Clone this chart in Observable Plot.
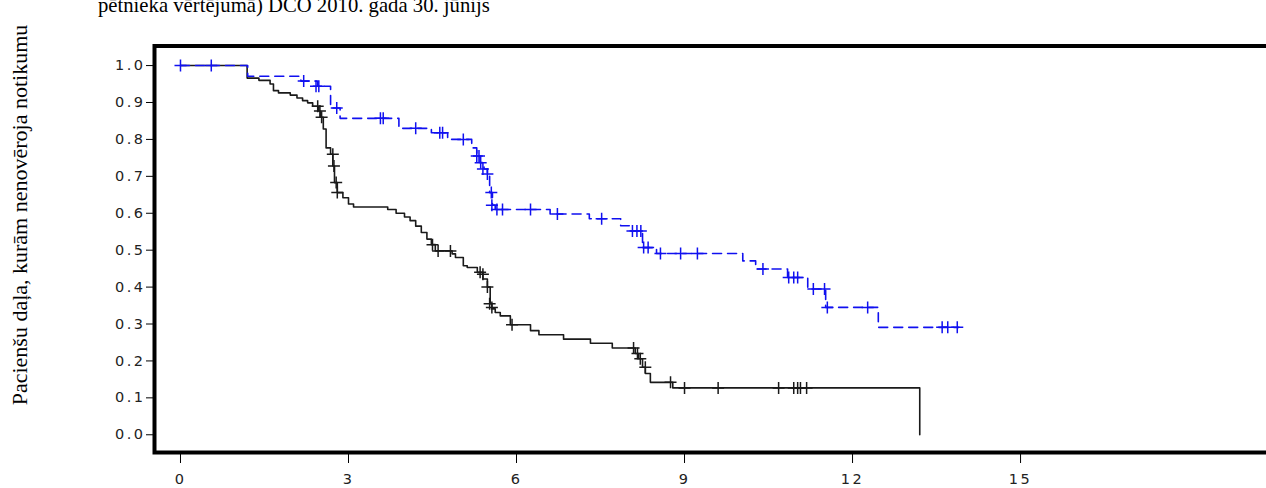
<!DOCTYPE html>
<html>
<head>
<meta charset="utf-8">
<script src="https://cdn.jsdelivr.net/npm/d3@7"></script>
<script src="https://cdn.jsdelivr.net/npm/@observablehq/plot@0.6"></script>
<style>
  html, body { margin: 0; padding: 0; background: #fff; overflow: hidden; }
  #wrap { position: relative; width: 1266px; height: 488px; overflow: hidden; }
  #title { position: absolute; left: 98px; top: -5px; font-family: "Liberation Serif", serif; font-size: 20.7px; line-height: 20px; white-space: nowrap; color: #000; }
  #ylab { position: absolute; left: 20px; top: 215px; transform: translate(-50%, -50%) rotate(-90deg); font-family: "Liberation Serif", serif; font-size: 22px; line-height: 22px; white-space: nowrap; color: #000; }
  #chart { position: absolute; left: 0; top: 0; }
</style>
</head>
<body>
<div id="wrap">
  <div id="chart"></div>
  <div id="title"></div>
  <div id="ylab"></div>
</div>
<script>
const titleText = "pētnieka vērtējumā) DCO 2010. gada 30. jūnijs";
const yLabelText = "Pacienšu daļa, kurām nenovēroja notikumu";

const xTicks = [0, 3, 6, 9, 12, 15];
const yTicks = [0, 0.1, 0.2, 0.3, 0.4, 0.5, 0.6, 0.7, 0.8, 0.9, 1.0];

// Control arm (black solid) – Kaplan-Meier steps
const ctrlTime = [0, 1.19, 1.4, 1.6, 1.66, 1.75, 1.96, 2.08, 2.18, 2.27, 2.36, 2.47, 2.5, 2.55, 2.6, 2.68, 2.72, 2.75, 2.8, 2.9, 3.0, 3.09, 3.7, 3.85, 4.0, 4.1, 4.2, 4.3, 4.4, 4.48, 4.55, 4.85, 4.91, 5.05, 5.12, 5.3, 5.4, 5.48, 5.53, 5.56, 5.62, 5.71, 5.89, 6.25, 6.4, 6.84, 7.32, 7.71, 8.12, 8.18, 8.25, 8.3, 8.39, 8.79, 13.2];
const ctrlSurv = [1.0, 0.966, 0.96, 0.95, 0.932, 0.926, 0.92, 0.912, 0.905, 0.899, 0.89, 0.877, 0.86, 0.828, 0.777, 0.76, 0.728, 0.683, 0.656, 0.642, 0.625, 0.617, 0.61, 0.6, 0.59, 0.58, 0.565, 0.548, 0.53, 0.515, 0.498, 0.49, 0.48, 0.458, 0.453, 0.44, 0.422, 0.4, 0.355, 0.341, 0.331, 0.322, 0.298, 0.282, 0.271, 0.259, 0.248, 0.235, 0.22, 0.206, 0.183, 0.166, 0.142, 0.127, 0.0];
const ctrlCensTime = [2.45, 2.49, 2.52, 2.72, 2.74, 2.78, 2.8, 4.5, 4.6, 4.82, 5.35, 5.4, 5.48, 5.52, 5.56, 5.92, 8.09, 8.16, 8.21, 8.3, 8.75, 9.0, 9.6, 10.68, 10.95, 11.02, 11.07, 11.18];
const ctrlCensSurv = [0.89, 0.877, 0.86, 0.76, 0.728, 0.683, 0.656, 0.515, 0.498, 0.498, 0.44, 0.435, 0.4, 0.355, 0.345, 0.298, 0.235, 0.22, 0.206, 0.183, 0.142, 0.127, 0.127, 0.127, 0.127, 0.127, 0.127, 0.127];

// Treatment arm (blue dashed)
const trtTime = [0, 1.2, 2.15, 2.45, 2.68, 2.85, 3.9, 4.48, 4.77, 5.2, 5.29, 5.35, 5.42, 5.48, 5.52, 5.57, 5.62, 6.6, 7.3, 7.86, 8.03, 8.25, 8.5, 10.04, 10.27, 10.84, 11.2, 11.52, 12.46, 13.9];
const trtSurv = [1.0, 0.971, 0.958, 0.944, 0.885, 0.857, 0.83, 0.818, 0.8, 0.777, 0.755, 0.737, 0.72, 0.706, 0.656, 0.622, 0.61, 0.598, 0.585, 0.566, 0.552, 0.507, 0.491, 0.471, 0.449, 0.426, 0.395, 0.345, 0.291, 0.291];
const trtCensTime = [0, 0.55, 2.2, 2.42, 2.47, 2.79, 3.57, 3.62, 4.2, 4.63, 4.68, 5.05, 5.29, 5.33, 5.36, 5.4, 5.48, 5.55, 5.56, 5.65, 5.75, 6.25, 6.73, 7.52, 8.07, 8.15, 8.22, 8.27, 8.35, 8.57, 8.93, 9.23, 10.4, 10.86, 10.95, 11.02, 11.3, 11.5, 11.55, 12.27, 13.6, 13.7, 13.87];
const trtCensSurv = [1.0, 1.0, 0.958, 0.944, 0.944, 0.885, 0.857, 0.857, 0.83, 0.818, 0.818, 0.8, 0.755, 0.755, 0.737, 0.72, 0.706, 0.656, 0.622, 0.61, 0.61, 0.61, 0.598, 0.585, 0.552, 0.552, 0.552, 0.507, 0.507, 0.491, 0.491, 0.491, 0.449, 0.426, 0.426, 0.426, 0.395, 0.395, 0.345, 0.345, 0.291, 0.291, 0.291];

const zip = (t, s) => t.map((d, i) => ({t: d, s: s[i]}));
const ctrl = zip(ctrlTime, ctrlSurv);
const trt = zip(trtTime, trtSurv);
const ctrlCens = zip(ctrlCensTime, ctrlCensSurv);
const trtCens = zip(trtCensTime, trtCensSurv);

const cross = {
  draw(ctx, size) {
    const r = Math.sqrt(size / Math.PI);
    ctx.moveTo(-r, 0); ctx.lineTo(r, 0);
    ctx.moveTo(0, -r); ctx.lineTo(0, r);
  }
};

const blue = "#1010f0";
const black = "#1a1a1a";

const chart = Plot.plot({
  width: 1266,
  height: 488,
  marginLeft: 154,
  marginRight: -10,
  marginTop: 45.5,
  marginBottom: 36,
  style: {background: "white", overflow: "hidden", fontFamily: "DejaVu Sans, sans-serif", fontSize: "14.5px", letterSpacing: "2.5px"},
  x: {domain: [-0.464, 19.57]},
  y: {domain: [-0.048, 1.053]},
  marks: [
    Plot.line(ctrl, {x: "t", y: "s", curve: "step-after", stroke: black, strokeWidth: 1.6}),
    Plot.line(trt, {x: "t", y: "s", curve: "step-after", stroke: blue, strokeWidth: 1.6, strokeDasharray: "9,6"}),
    Plot.dot(ctrlCens, {x: "t", y: "s", symbol: cross, r: 6, stroke: black, fill: "none", strokeWidth: 1.5}),
    Plot.dot(trtCens, {x: "t", y: "s", symbol: cross, r: 6, stroke: blue, fill: "none", strokeWidth: 1.5}),
    Plot.axisX({ticks: xTicks, tickSize: 11, tickPadding: 10, label: null, fontSize: 14.5, fill: "#222"}),
    Plot.axisY({ticks: yTicks, tickFormat: d3.format(".1f"), tickSize: 8, tickPadding: 1, label: null, fontSize: 14.5, fill: "#222"}),
    Plot.frame({stroke: "black", strokeWidth: 4})
  ]
});
document.getElementById("chart").appendChild(chart);
document.getElementById("title").textContent = titleText;
document.getElementById("ylab").textContent = yLabelText;
</script>
</body>
</html>
